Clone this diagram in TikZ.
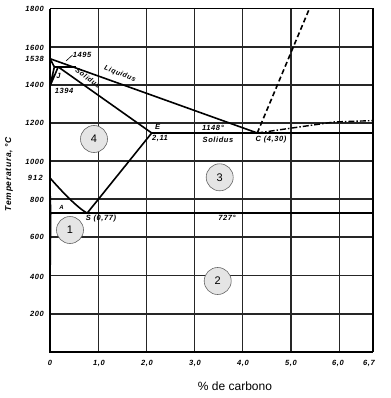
\documentclass[tikz,border=0pt]{standalone}
\usepackage{fontspec}
\setmainfont{Liberation Sans}
\newfontfamily\lblfont[LetterSpace=8]{Liberation Sans}
\begin{document}
\begin{tikzpicture}[x=1pt,y=-1pt,
  lbl/.style={font=\lblfont\bfseries\itshape\fontsize{7.5}{9}\selectfont, inner sep=0pt},
  ylbl/.style={lbl, anchor=east},
  xlbl/.style={lbl},
  gridline/.style={line width=1.2pt, black!85},
  hgrid/.style={line width=1.8pt, black!85},
  phase/.style={line width=1.6pt, black},
  thinphase/.style={line width=0.9pt, black},
  region/.style={circle, draw=black!60, line width=0.6pt, fill=black!10, minimum size=27pt, inner sep=0pt, font=\fontsize{11}{12}\selectfont}]
\useasboundingbox (0,0) rectangle (390,398);
\fill[white] (0,0) rectangle (390,398);
\begin{scope}[shift={(50,351.7)}, x=48.2pt, y=0.1905pt]
  % key points
  \coordinate (O) at (0,0);
  \coordinate (TL) at (0,1800);
  \coordinate (TR) at (6.7,1800);
  \coordinate (BR) at (6.7,0);
  \coordinate (A) at (0,1538);
  \coordinate (H) at (0.09,1495);
  \coordinate (J) at (0.17,1495);
  \coordinate (B) at (0.53,1495);
  \coordinate (N) at (0,1394);
  \coordinate (E) at (2.11,1148);
  \coordinate (C) at (4.30,1148);
  \coordinate (F) at (6.7,1148);
  \coordinate (G) at (0,912);
  \coordinate (P) at (0.022,727);
  \coordinate (S) at (0.77,727);
  \coordinate (K) at (6.7,727);
  \coordinate (Dtop) at (5.38,1800);
  \coordinate (DD) at (6.7,1213);
  % grid
  \foreach \cc in {1,...,6} \draw[gridline] (\cc,0) -- (\cc,1800);
  \foreach \hh in {200,400,600,800,1000,1200,1400,1600} \draw[hgrid] (0,\hh) -- (6.7,\hh);
  % frame
  \draw[line width=1.4pt] (TL) -- (TR) -- (BR);
  \draw[line width=2.2pt] (TL) -- (O) -- (BR);
  % phase lines
  \draw[phase] (A) -- (C);
  \draw[phase] (H) -- (B);
  \draw[phase] (A) -- (H) -- (N) -- (J);
  \draw[phase] (J) -- (E);
  \draw[phase] (E) -- (F);
  \draw[phase] (S) -- (E);
  \draw[phase] (G) .. controls (0.25,840) and (0.55,760) .. (S);
  \draw[phase] (P) -- (K);
  \draw[thinphase] (G) -- (P);
  \draw[thinphase] (P) .. controls (0.01,450) and (0.005,250) .. (0,100);
  \draw[phase, dash pattern=on 5pt off 3pt] (C) -- (Dtop);
  \draw[line width=1.4pt, dash pattern=on 6pt off 2pt on 1.5pt off 2pt] (C) -- (5.9,1206) -- (DD);
\end{scope}
% region markers
\node[region] (r4) at (94,139) {4};
\node[region] (r3) at (219.7,177.3) {3};
\node[region] (r1) at (70,230) {1};
\node[region] (r2) at (217.7,281) {2};
% y labels
\node[ylbl] (y1800) at (44,8.5) {1800};
\node[ylbl] (y1600) at (44,47.5) {1600};
\node[ylbl] (y1538) at (44,59) {1538};
\node[ylbl] (y1400) at (44,85) {1400};
\node[ylbl] (y1200) at (44,123) {1200};
\node[ylbl] (y1000) at (44,162) {1000};
\node[ylbl] (y912) at (43,178) {9\,1\,2};
\node[ylbl] (y800) at (44,200) {800};
\node[ylbl] (y600) at (44,237) {600};
\node[ylbl] (y400) at (44,276.5) {400};
\node[ylbl] (y200) at (44,314) {200};
% x labels
\node[xlbl] (x0) at (50,363) {0};
\node[xlbl] (x1) at (99,363) {1,0};
\node[xlbl] (x2) at (147,363) {2,0};
\node[xlbl] (x3) at (195,363) {3,0};
\node[xlbl] (x4) at (243,363) {4,0};
\node[xlbl] (x5) at (291,363) {5,0};
\node[xlbl] (x6) at (338,363) {6,0};
\node[xlbl] (x67) at (369,363) {6,7};
% axis titles
\node[font=\fontsize{12}{14}\selectfont] (xt) at (235,386) {\% de carbono};
\node[lbl, rotate=90, font=\lblfont\bfseries\itshape\fontsize{8.5}{10}\selectfont] (yt) at (9,174) {Temperatura, °C};
% diagram labels
\node[lbl] (l1495) at (82,55) {1495};
\coordinate (b1495) at (66,61);
\draw[line width=0.6pt] (b1495) -- (l1495.west);
\node[lbl] (lJ) at (58.5,76) {J};
\node[lbl] (l1394) at (64,91) {1394};
\node[lbl, rotate=-21, font=\lblfont\bfseries\itshape\fontsize{7}{8}\selectfont] (lliq) at (120,74) {Liquidus};
\node[lbl, rotate=-35, font=\lblfont\bfseries\itshape\fontsize{7}{8}\selectfont] (lsol) at (88,78) {Solidus};
\node[lbl] (lE) at (157.5,126.5) {E};
\node[lbl] (l211) at (160,138.5) {2,11};
\node[lbl] (l1148) at (213,128) {1148°};
\node[lbl] (lsol2) at (218,139.5) {Solidus};
\node[lbl] (lC) at (271,140) {C (4,30)};
\node[lbl] (l727) at (227,218) {727°};
\node[lbl, font=\lblfont\bfseries\itshape\fontsize{6}{7}\selectfont] (lA) at (61.5,207) {A};
\node[lbl] (lS) at (101,219) {S (0,77)};
\end{tikzpicture}
\end{document}
